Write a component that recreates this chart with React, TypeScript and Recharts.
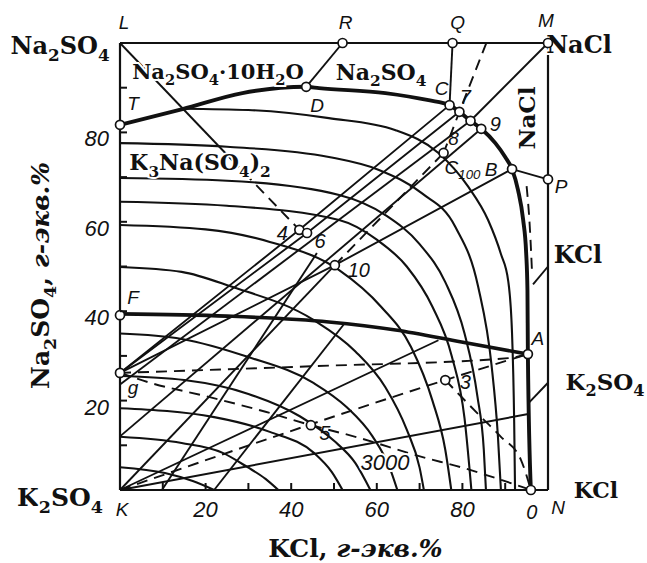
import React from 'react';
import { ComposedChart, Line, Scatter, XAxis, YAxis } from 'recharts';

// x = KCl, y = Na2SO4, г-экв.%
type Pair = [number, number];
const pts = (a: Pair[]) => a.map(([x, y]) => ({ x, y }));

// thick boundaries
const boundaryTCO: Pair[] = [
  [0, 81.7], [14.6, 85.2], [28.6, 88.8], [43.5, 90.2], [46.5, 89.9], [62, 88.8], [72.1, 87.2],
  [77, 86.1], [79.3, 84.6], [81.9, 82.6], [84.4, 80.8], [87.7, 77.6], [90, 74.5], [91.6, 71.8],
  [93, 67.1], [94.2, 60.4], [94.9, 53], [95.2, 44.7], [95.3, 30.4], [96, 0],
];
const boundaryFA: Pair[] = [[0, 39.4], [25, 38.9], [48.8, 37.6], [64.4, 35.8], [79.8, 33.1], [95.3, 30.4]];

// thin isohydric arcs
const arc1: Pair[] = [[14.6, 85.3], [30, 85], [48.8, 83.2], [64.4, 80.5], [74.4, 75.4], [81.4, 67.8], [86, 60.4], [89, 52.8], [90.7, 46.8], [91.6, 35], [92.1, 15], [92.3, 0]];
const arc2: Pair[] = [[0, 77.6], [25, 76.8], [48.8, 74.5], [60.5, 71.6], [70.5, 66.4], [78.4, 58.8], [83.7, 45.4], [86.8, 28], [88.3, 12], [89, 0]];
const arc3: Pair[] = [[0, 69.8], [25, 69.2], [51.2, 66], [62, 61.5], [70, 55], [76, 46.5], [80.5, 35], [83.5, 21], [85, 9], [85.5, 0]];
const arc4: Pair[] = [[0, 64.5], [25, 63.6], [51.2, 60.4], [60, 56], [67, 50], [73, 41], [77.5, 30], [80.5, 16], [82.1, 0]];
const arc5: Pair[] = [[0, 59.3], [20, 58.3], [35, 55.5], [51.2, 49.2], [61, 41], [68, 32], [73, 20], [76, 9], [77.4, 0]];
const arc6: Pair[] = [[0, 49.9], [14.4, 48.8], [26, 45.5], [45.3, 38], [55, 31], [62, 23], [67, 13.5], [70, 5], [71, 0]];
const arc7: Pair[] = [[0, 35], [14.4, 33.8], [29.8, 29.8], [45.3, 23.9], [53, 18.5], [59, 12], [63, 5], [64.8, 0]];
const arc8: Pair[] = [[0, 25.5], [15, 24.6], [30, 21.5], [42, 16.5], [50, 11], [55, 6], [58.5, 0]];
const arc9: Pair[] = [[0, 18.3], [22, 16.3], [35, 13], [45.3, 8.3], [49.5, 4], [52, 0]];
const arc10: Pair[] = [[0, 11.9], [14.4, 10.5], [24, 8.3], [29.8, 5.1], [34, 2.5], [37, 0]];
const arc11: Pair[] = [[0, 5.1], [10.5, 3.8], [17, 2], [22, 0]];

// straight thin lines
const borderTop: Pair[] = [[0, 100], [100, 100]];
const borderRight: Pair[] = [[100, 100], [100, 0]];
const lineRD: Pair[] = [[43.5, 90.2], [52, 100]];
const lineQC: Pair[] = [[77, 86.1], [77.7, 100]];
const lineM: Pair[] = [[81.9, 82.6], [100, 100]];
const lineBP: Pair[] = [[91.6, 71.8], [100, 69.5]];
const lineL4: Pair[] = [[0, 100], [26, 74]];
const rayG4C: Pair[] = [[0, 26.2], [41.9, 58.2], [77, 86.1]];
const rayG67: Pair[] = [[0, 26.2], [43.7, 57.5], [79.3, 84.6]];
const rayGp: Pair[] = [[0, 23.6], [81.9, 82.6]];
const ray9: Pair[] = [[0, 12], [84.4, 80.8]];
const rayG10B: Pair[] = [[0, 26.2], [50.2, 50.3], [91.6, 71.8]];
const rayK10: Pair[] = [[0, 0], [50.2, 50.3]];
const rayK1: Pair[] = [[0, 0], [74.4, 33.5]];
const rayK2: Pair[] = [[0, 0], [95.4, 17]];
const steep1: Pair[] = [[9.8, 0], [46, 53]];
const steep2: Pair[] = [[22, 0], [52.5, 37.3]];
const leaderKCl: Pair[] = [[96.5, 46], [100, 50]];
const leaderK2SO4: Pair[] = [[95.5, 19.5], [100, 24]];

// dashed lines
const dashGA: Pair[] = [[0, 26.2], [45.3, 27.7], [90.7, 29.5], [95.3, 30.4]];
const dashG5O: Pair[] = [[0, 26.2], [7, 24], [20, 21], [34, 17.5], [44.6, 14.5], [55, 11.9], [70.5, 7.4], [80, 5], [88, 2.6], [96, 0]];
const dashK3A: Pair[] = [[0, 0], [76, 24.6], [95.3, 30.4]];
const dash3O: Pair[] = [[76, 24.6], [79.8, 20.8], [84.4, 16.3], [89, 11.9], [93.7, 6.7], [96, 0]];
const dashTop: Pair[] = [[85.6, 100], [79.3, 84.6], [75.6, 75.4]];
const dash10C: Pair[] = [[50.2, 50.3], [75.6, 75.4]];
const dashL4: Pair[] = [[26, 74], [41.9, 58.2]];
const dashNearB: Pair[] = [[95, 68], [95.8, 58], [96.3, 48]];

const xTicks = [10, 20, 30, 40, 50, 60, 70, 80, 90];
const yTicks = [10, 20, 30, 40, 50, 60, 70, 80, 90];

const circlePoints = [
  { id: 'T', label: 'T', x: 0, y: 81.7 },
  { id: 'D', label: 'D', x: 43.5, y: 90.2 },
  { id: 'C', label: 'C', x: 77, y: 86.1 },
  { id: 'p7', label: '7', x: 79.3, y: 84.6 },
  { id: 'p8', label: '', x: 81.9, y: 82.6 },
  { id: 'p9', label: '9', x: 84.4, y: 80.8 },
  { id: 'C100', label: 'C_100', x: 75.6, y: 75.4 },
  { id: 'B', label: 'B', x: 91.6, y: 71.8 },
  { id: 'P', label: 'P', x: 100, y: 69.5 },
  { id: 'R', label: 'R', x: 52, y: 100 },
  { id: 'Q', label: 'Q', x: 77.7, y: 100 },
  { id: 'M', label: 'M', x: 100, y: 100 },
  { id: 'F', label: 'F', x: 0, y: 39.1 },
  { id: 'g', label: 'g', x: 0, y: 26.2 },
  { id: 'p4', label: '4', x: 41.9, y: 58.2 },
  { id: 'p6', label: '6', x: 43.7, y: 57.5 },
  { id: 'p10', label: '10', x: 50.2, y: 50.3 },
  { id: 'p3', label: '3', x: 76, y: 24.6 },
  { id: 'p5', label: '5', x: 44.6, y: 14.5 },
  { id: 'A', label: 'A', x: 95.3, y: 30.4 },
  { id: 'O', label: '0', x: 96, y: 0 },
];
const cornerPoints = [
  { id: 'L', label: 'L', x: 0, y: 100 },
  { id: 'K', label: 'K', x: 0, y: 0 },
  { id: 'N', label: 'N', x: 100, y: 0 },
  { id: 'p8t', label: '8', x: 75.6, y: 75.4 },
];
const notes = [
  { id: 'mirabilite', text: 'Na_2SO_4·10H_2O', x: 22.9, y: 93.5 },
  { id: 'thenardite', text: 'Na_2SO_4', x: 61, y: 93.5 },
  { id: 'glaserite', text: 'K_3Na(SO_4)_2', x: 18.7, y: 73.2 },
  { id: 'halite', text: 'NaCl', x: 95.1, y: 83.2 },
  { id: 'sylvite', text: 'KCl', x: 100, y: 52.6 },
  { id: 'arcanite', text: 'K_2SO_4', x: 100, y: 24.2 },
  { id: 'cNa2SO4', text: 'Na_2SO_4', x: 0, y: 100 },
  { id: 'cNaCl', text: 'NaCl', x: 100, y: 100 },
  { id: 'cK2SO4', text: 'K_2SO_4', x: 0, y: 0 },
  { id: 'cKCl', text: 'KCl', x: 100, y: 0 },
  { id: 'iso', text: '3000', x: 61.9, y: 6.3 },
  { id: 'yTitle', text: 'Na_2SO_4, |г-экв.%', x: 0, y: 48 },
  { id: 'xTitle', text: 'KCl, |г-экв.%', x: 55, y: 0 },
];

// label placement (pixel offsets from the anchor, text centre)
const pointOffset: Record<string, [number, number]> = {
  T: [13, -21], D: [11, 19], C: [-8, -17], p7: [6, -15], p9: [14, -5], C100: [19, 14],
  B: [-21, 0], P: [13, 7], R: [3, -21], Q: [5, -21], M: [-2, -23], F: [13, -18], g: [13, 14],
  p4: [-17, 3], p6: [13, 8], p10: [24, 5], p3: [20, 2], p5: [14, 8], A: [10, -16], O: [1, 22],
  L: [4, -21], K: [2, 19], N: [10, 17], p8t: [10, -15],
};
const noteStyle: Record<string, { dx: number; dy: number; fs: number; rot?: number; italic?: boolean }> = {
  mirabilite: { dx: 0, dy: 0, fs: 21 },
  thenardite: { dx: 0, dy: 0, fs: 22 },
  glaserite: { dx: 0, dy: 0, fs: 22 },
  halite: { dx: 0, dy: 0, fs: 23, rot: -90 },
  sylvite: { dx: 30, dy: 0, fs: 24 },
  arcanite: { dx: 57, dy: 0, fs: 23 },
  cNa2SO4: { dx: -60, dy: 3, fs: 24 },
  cNaCl: { dx: 31, dy: 2, fs: 24 },
  cK2SO4: { dx: -60, dy: 7, fs: 25 },
  cKCl: { dx: 48, dy: 0, fs: 22 },
  iso: { dx: 0, dy: 0, fs: 22, italic: true },
  yTitle: { dx: -80, dy: 0, fs: 25, rot: -90 },
  xTitle: { dx: 0, dy: 58, fs: 25 },
};

const INK = '#111';
const SERIF = "'DejaVu Serif', serif";
const ITAL = "'Liberation Sans', 'DejaVu Sans', sans-serif";

function chem(s: string, fs: number) {
  const [main, unit] = s.split('|');
  const parts = main.split(/_(\d+)/);
  const out: React.ReactNode[] = [];
  let low = false;
  parts.forEach((p, i) => {
    if (!p) return;
    if (i % 2 === 1) {
      out.push(<tspan key={i} dy={low ? 0 : fs * 0.28} fontSize={fs * 0.7}>{p}</tspan>);
      low = true;
    } else {
      out.push(<tspan key={i} dy={low ? -fs * 0.28 : 0}>{p}</tspan>);
      low = false;
    }
  });
  if (unit) out.push(<tspan key="u" fontStyle="italic" dy={low ? -fs * 0.28 : 0}>{unit}</tspan>);
  return out;
}

const PointShape = (props: any) => {
  const { cx, cy, payload } = props;
  const [dx, dy] = pointOffset[payload.id] || [0, 0];
  const fs = /^[0-9]/.test(payload.label) ? 20 : 19;
  return (
    <g>
      <circle cx={cx} cy={cy} r={4.5} fill="#fff" stroke={INK} strokeWidth={1.7} />
      {payload.label && (
        <text x={cx + dx} y={cy + dy + fs * 0.35} textAnchor="middle" fontFamily={ITAL} fontStyle="italic" fontSize={fs} fill={INK}>
          {chem(payload.label, fs)}
        </text>
      )}
    </g>
  );
};

const CornerShape = (props: any) => {
  const { cx, cy, payload } = props;
  const [dx, dy] = pointOffset[payload.id] || [0, 0];
  const fs = 19;
  return (
    <text x={cx + dx} y={cy + dy + fs * 0.35} textAnchor="middle" fontFamily={ITAL} fontStyle="italic" fontSize={fs} fill={INK}>
      {payload.label}
    </text>
  );
};

const NoteShape = (props: any) => {
  const { cx, cy, payload } = props;
  const st = noteStyle[payload.id];
  const x = cx + st.dx;
  const y = cy + st.dy;
  const italic = st.italic;
  return (
    <text
      x={x}
      y={y + st.fs * 0.35}
      textAnchor="middle"
      transform={st.rot ? `rotate(${st.rot} ${x} ${y})` : undefined}
      fontFamily={italic ? ITAL : SERIF}
      fontWeight={italic ? 400 : 700}
      fontStyle={italic ? 'italic' : 'normal'}
      fontSize={st.fs}
      fill={INK}
      stroke="#fff"
      strokeWidth={4}
      paintOrder="stroke"
    >
      {chem(payload.text, st.fs)}
    </text>
  );
};

const XTick = ({ x, y, payload }: any) => (
  <g>
    <line x1={x} y1={y} x2={x} y2={y - 7} stroke={INK} strokeWidth={2} />
    {payload.value % 20 === 0 && (
      <text x={x} y={y + 27} textAnchor="middle" fontFamily={ITAL} fontStyle="italic" fontSize={22} fill={INK}>
        {payload.value}
      </text>
    )}
  </g>
);
const YTick = ({ x, y, payload }: any) => (
  <g>
    <line x1={x} y1={y} x2={x + 7} y2={y} stroke={INK} strokeWidth={2} />
    {payload.value % 20 === 0 && (
      <text x={x - 11} y={y + 14} textAnchor="end" fontFamily={ITAL} fontStyle="italic" fontSize={22} fill={INK}>
        {payload.value}
      </text>
    )}
  </g>
);

const thin = [arc1, arc2, arc3, arc4, arc5, arc6, arc7, arc8, arc9, arc10, arc11];
const straight = [borderTop, borderRight, lineRD, lineQC, lineM, lineBP, lineL4, rayG4C, rayG67, rayGp, ray9, rayG10B, rayK10, rayK1, rayK2, steep1, steep2, leaderKCl, leaderK2SO4];
const dashed = [dashGA, dashG5O, dashK3A, dash3O, dashTop, dash10C, dashL4, dashNearB];

export default function App() {
  return (
    <div style={{ position: 'absolute', left: 0, top: 0, background: '#fff' }}>
      <ComposedChart width={647} height={563} margin={{ top: 43, right: 99, bottom: 43, left: 60 }}>
        <XAxis
          type="number"
          dataKey="x"
          domain={[0, 100]}
          ticks={xTicks}
          interval={0}
          height={30}
          tickSize={0}
          tickMargin={0}
          tick={<XTick />}
          axisLine={{ stroke: INK, strokeWidth: 2.2 }}
        />
        <YAxis
          type="number"
          dataKey="y"
          domain={[0, 100]}
          ticks={yTicks}
          interval={0}
          width={60}
          tickSize={0}
          tickMargin={0}
          tick={<YTick />}
          axisLine={{ stroke: INK, strokeWidth: 2.2 }}
        />
        {thin.map((d, i) => (
          <Line key={`a${i}`} data={pts(d)} dataKey="y" type="monotone" stroke={INK} strokeWidth={2.1} dot={false} activeDot={false} isAnimationActive={false} />
        ))}
        {straight.map((d, i) => (
          <Line key={`s${i}`} data={pts(d)} dataKey="y" type="linear" stroke={INK} strokeWidth={i < 2 ? 2.2 : 1.9} dot={false} activeDot={false} isAnimationActive={false} />
        ))}
        {dashed.map((d, i) => (
          <Line key={`d${i}`} data={pts(d)} dataKey="y" type="monotone" stroke={INK} strokeWidth={1.9} strokeDasharray="11 7" dot={false} activeDot={false} isAnimationActive={false} />
        ))}
        <Line data={pts(boundaryTCO)} dataKey="y" type="monotone" stroke={INK} strokeWidth={3.9} dot={false} activeDot={false} isAnimationActive={false} />
        <Line data={pts(boundaryFA)} dataKey="y" type="monotone" stroke={INK} strokeWidth={3.6} dot={false} activeDot={false} isAnimationActive={false} />
        <Scatter data={notes} shape={NoteShape} isAnimationActive={false} />
        <Scatter data={cornerPoints} shape={CornerShape} isAnimationActive={false} />
        <Scatter data={circlePoints} shape={PointShape} isAnimationActive={false} />
      </ComposedChart>
    </div>
  );
}
